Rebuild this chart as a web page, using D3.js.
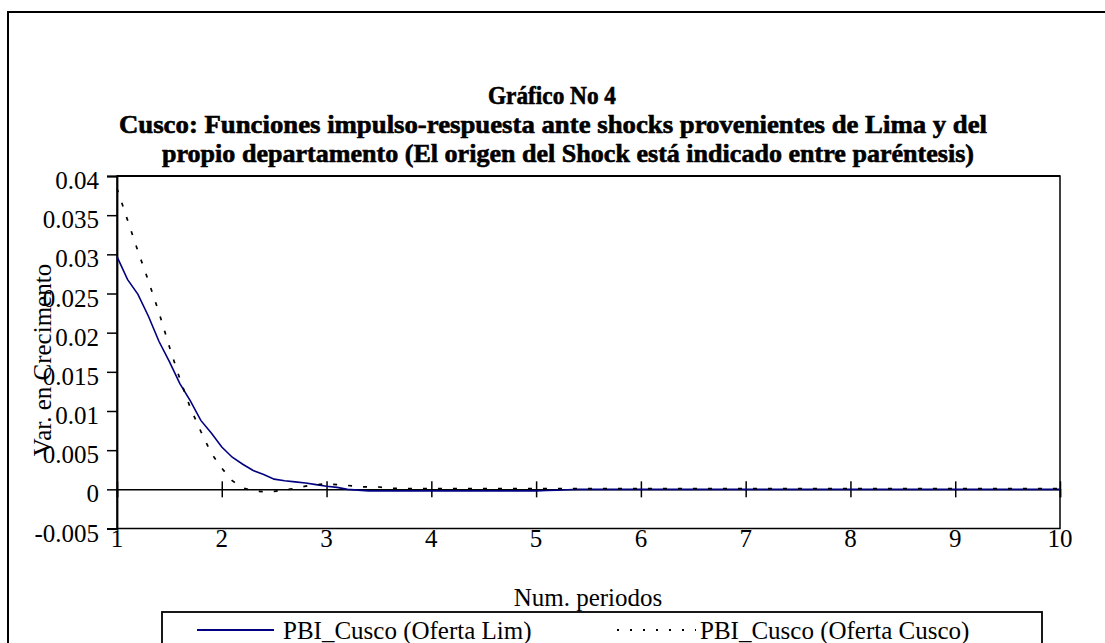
<!DOCTYPE html>
<html><head><meta charset="utf-8">
<script src="https://cdn.jsdelivr.net/npm/d3@7/dist/d3.min.js"></script>
<style>body{margin:0;background:#fff}svg{display:block}</style>
</head><body>
<svg id="c" width="1105" height="643"></svg>
<script>
const titleLines = ["Gráfico No 4",
  "Cusco: Funciones impulso-respuesta ante shocks  provenientes de Lima y del",
  "propio departamento (El origen del Shock está indicado entre paréntesis)"];
const xTicks = [1,2,3,4,5,6,7,8,9,10];
const yTicks = [-0.005,0,0.005,0.01,0.015,0.02,0.025,0.03,0.035,0.04];
const yTickLabels = ["-0.005","0","0.005","0.01","0.015","0.02","0.025","0.03","0.035","0.04"];
const seriesNames = ["PBI_Cusco (Oferta Lim)","PBI_Cusco (Oferta Cusco)"];
const periods = d3.range(91).map(i => +(1 + i*0.1).toFixed(1));
const ofertaLim = [0.0297,0.0268,0.0249,0.0221,0.0189,0.0163,0.0135,0.0113,0.0088,0.0072,
  0.0054,0.0041,0.0032,0.0024,0.0019,0.0013,0.0011,0.00095,0.0008,0.0006,
  0.0004,0.00025,0.0,-0.0001,-0.0002,-0.0002,-0.0002,-0.0002,-0.0002,-0.0002,
  -0.0002,-0.0002,-0.0002,-0.0002,-0.0002,-0.0002,-0.0002,-0.0002,-0.0002,-0.0002,
  -0.0002,-0.00015,-0.0001,-0.00005,0,0,0,0,0,0,
  0,0,0,0,0,0,0,0,0,0,0,0,0,0,0,0,0,0,0,0,
  0,0,0,0,0,0,0,0,0,0,0,0,0,0,0,0,0,0,0,0,0];
const ofertaCusco = [0.0384,0.0344,0.0304,0.0266,0.0226,0.0182,0.0141,0.0104,0.0074,0.0046,
  0.0027,0.0011,0.0002,-0.0002,-0.0003,-0.00025,-0.0001,0.00013,0.0004,0.0006,
  0.0007,0.0006,0.0005,0.00035,0.0003,0.0003,0.00015,0.0001,0.0001,0.0001,
  0.0001,0.0001,0.0001,0.0001,0.0001,0.0001,0.0001,0.0001,0.0001,0.0001,
  0.0001,0.0001,0.0001,0.0001,0.0001,0.0001,0.0001,0.0001,0.0001,0.0001,
  0.0001,0.0001,0.0001,0.0001,0.0001,0.0001,0.0001,0.0001,0.0001,0.0001,
  0.0001,0.0001,0.0001,0.0001,0.0001,0.0001,0.0001,0.0001,0.0001,0.0001,
  0.0001,0.0001,0.0001,0.0001,0.0001,0.0001,0.0001,0.0001,0.0001,0.0001,
  0.0001,0.0001,0.0001,0.0001,0.0001,0.0001,0.0001,0.0001,0.0001,0.0001,0.0001];

const svg = d3.select("#c");
const F = "'Liberation Serif','Times New Roman',serif";
const FS = 25;
const L = 117, R = 1060, T = 176, B = 528.5;
const x = d3.scaleLinear().domain([1,10]).range([L,R]);
const y = d3.scaleLinear().domain([-0.005,0.04]).range([B,T]);

// outer frame (right and bottom edges lie outside the picture)
svg.append("rect").attr("x",8).attr("y",12).attr("width",1110).attr("height",700)
  .attr("fill","none").attr("stroke","#000").attr("stroke-width",2);

// titles (bold)
const tInfo = [{cx:552,y:104,w:128},{cx:553,y:133,w:868},{cx:568,y:162,w:812}];
titleLines.forEach((t,i)=>{
  svg.append("text").attr("x",tInfo[i].cx).attr("y",tInfo[i].y).attr("text-anchor","middle")
    .attr("font-family",F).attr("font-weight","bold").attr("font-size",25)
    .attr("stroke","#000").attr("stroke-width",0.6)
    .attr("textLength",tInfo[i].w).attr("lengthAdjust","spacingAndGlyphs").text(t);
});

// plot border
svg.append("rect").attr("x",L).attr("y",T).attr("width",R-L).attr("height",B-T)
  .attr("fill","none").attr("stroke","#000").attr("stroke-width",1.5);
svg.append("line").attr("x1",L).attr("x2",R).attr("y1",T).attr("y2",T)
  .attr("stroke","#000").attr("stroke-width",2.2);

// y axis
const yAxis = d3.axisLeft(y).tickValues(yTicks).tickSize(10).tickFormat((d,i)=>yTickLabels[i]);
const ga = svg.append("g").attr("transform",`translate(${L},0)`).call(yAxis);
ga.select(".domain").attr("stroke","#000").attr("stroke-width",1.8);
ga.selectAll(".tick line").attr("stroke","#000").attr("stroke-width",1.5);
ga.selectAll(".tick text").attr("font-family",F).attr("font-size",FS).attr("fill","#000")
  .attr("x",-18).attr("dy","0.5em");

// x axis along zero
const xAxis = d3.axisBottom(x).tickValues(xTicks).tickSize(8).tickFormat("");
const gx = svg.append("g").attr("transform",`translate(0,${y(0)})`).call(xAxis);
gx.select(".domain").attr("stroke","#000").attr("stroke-width",1.5);
gx.selectAll(".tick line").attr("stroke","#000").attr("stroke-width",1.5).attr("y1",-8).attr("y2",8);
svg.append("g").selectAll("text").data(xTicks).join("text")
  .attr("x",d=>x(d)).attr("y",B+18).attr("text-anchor","middle")
  .attr("font-family",F).attr("font-size",FS).text(d=>d);

// series
const line = vals => d3.line().x((d,i)=>x(periods[i])).y(d=>y(d))(vals);
svg.append("path").attr("d",line(ofertaLim)).attr("fill","none")
  .attr("stroke","#000080").attr("stroke-width",1.6);
svg.append("path").attr("d",line(ofertaCusco)).attr("fill","none")
  .attr("stroke","#000").attr("stroke-width",1.7).attr("stroke-dasharray","4,11");

// axis titles
svg.append("text").attr("transform",`translate(51,360) rotate(-90)`).attr("text-anchor","middle")
  .attr("font-family",F).attr("font-size",FS).text("Var. en Crecimento");
svg.append("text").attr("x",588).attr("y",606).attr("text-anchor","middle")
  .attr("font-family",F).attr("font-size",FS).text("Num. periodos");

// legend
svg.append("rect").attr("x",162).attr("y",612).attr("width",880).attr("height",60)
  .attr("fill","none").attr("stroke","#000").attr("stroke-width",1.8);
const lg = [{x1:197,x2:274,tx:283,c:"#000080",dash:null},{x1:617,x2:696,tx:700,c:"#000",dash:"2,11"}];
lg.forEach((g,i)=>{
  svg.append("line").attr("x1",g.x1).attr("x2",g.x2).attr("y1",630).attr("y2",630)
    .attr("stroke",g.c).attr("stroke-width",g.dash?2:1.8).attr("stroke-dasharray",g.dash);
  svg.append("text").attr("x",g.tx).attr("y",639).attr("font-family",F).attr("font-size",FS).text(seriesNames[i]);
});
</script>
</body></html>
